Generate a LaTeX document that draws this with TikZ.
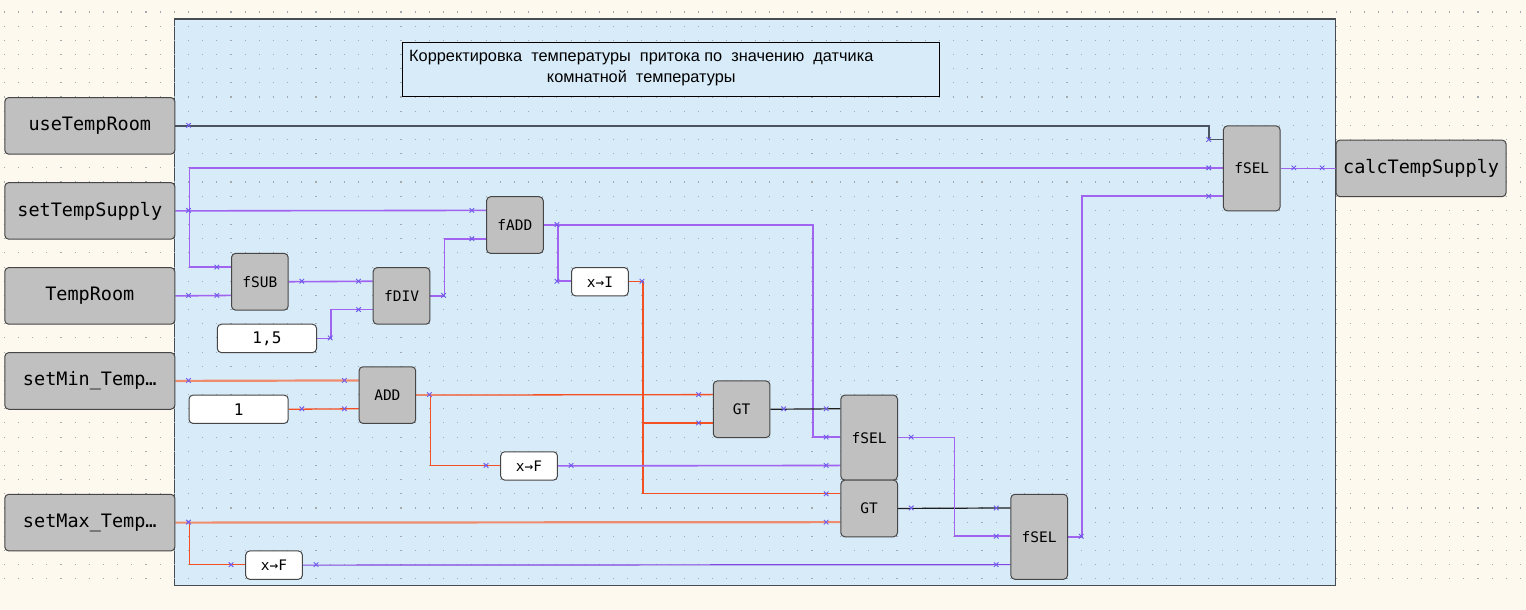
\documentclass[tikz,border=0pt]{standalone}
\usepackage{fontspec}
\setmonofont{DejaVu Sans Mono}
\newfontfamily\titlefont{Liberation Sans}
\usepackage{tikz}
\usetikzlibrary{positioning}
\usetikzlibrary{calc}
\newdimen\gs \gs=14.17pt
\definecolor{cream}{RGB}{254,249,238}
\definecolor{panel}{RGB}{216,235,249}
\definecolor{frame}{RGB}{70,76,82}
\definecolor{blk}{RGB}{192,192,192}
\definecolor{blkline}{RGB}{70,70,70}
\definecolor{dotc}{RGB}{165,170,175}
\definecolor{vio}{RGB}{160,100,240}
\definecolor{viod}{RGB}{130,70,225}
\definecolor{org}{RGB}{245,80,35}
\definecolor{orgl}{RGB}{240,140,110}
\definecolor{wblack}{RGB}{30,30,30}
\definecolor{wgray}{RGB}{75,85,95}
\definecolor{mkc}{RGB}{110,90,235}
\pgfdeclarelayer{back}
\pgfdeclarelayer{wire}
\pgfsetlayers{back,wire,main}
\newcommand{\ioblk}[3]{\node(#1)[io,anchor=north west] at (0,#2){#3}; \pic at (13,#2+2) {xm}}
\newcommand{\cblk}[5]{\node(#1)[cb,anchor=north west,minimum width=#4\gs] at (#2,#3){#5}; \pic at (#2+#4+1,#3+1) {xm}}
\newcommand{\fblk}[8]{%
  \node(#1)[#2,anchor=north west,minimum width=#5\gs,minimum height=#6\gs] at (#3,#4) {#8};
  \foreach \k in {1,...,#7}{
    \coordinate(#1-\k) at (#3,#4+2*\k-1);
    \pic at (#3-1,#4+2*\k-1) {xm};
  }
  \pic at (#3+#5+1,#4+#6/2) {xm}}

\begin{document}
\begin{tikzpicture}[
        x=14.17pt, y=-14.17pt,
        fb/.style={rectangle,rounded corners=4pt,draw=blkline,line width=1pt,fill=blk,
                   inner sep=0pt,font=\fontsize{14.5}{17}\selectfont\ttfamily},
        wb/.style={fb,fill=white},
        cb/.style={wb,minimum height=2\gs,font=\fontsize{16}{18}\selectfont\ttfamily},
        io/.style={fb,minimum width=12\gs,minimum height=4\gs,
                   font=\fontsize{18.5}{21}\selectfont\ttfamily},
        xm/.pic={\draw[mkc,line width=0.9pt] (-0.16,-0.16)--(0.16,0.16) (-0.16,0.16)--(0.16,-0.16);},
        dotline/.style={dotc,line width=1.1pt,dash pattern=on 1.1pt off 13.07pt},
        wv/.style={vio,line width=1.6pt},
        wvd/.style={viod,line width=1.2pt},
        wo/.style={org,line width=1.3pt},
        wol/.style={orgl,line width=2.2pt},
        wk/.style={wblack,line width=1.2pt},
        wg/.style={wgray,line width=1.6pt}
      ]
      \useasboundingbox (-0.303,-0.847) rectangle (107.39,42.2);
      \begin{pgfonlayer}{back}
        \fill[cream] (-0.303,-0.847) rectangle (107.39,42.2);
        \draw[frame,line width=1.2pt,fill=panel] (12,0.5) rectangle (93.95,40.5);
        \foreach \j in {0,...,40} \draw[dotline] (-0.04,\j) -- (107.4,\j);
      \end{pgfonlayer}

      \node(titlebox)[draw=black,line width=1pt,fill=panel,minimum width=37.9\gs,minimum height=3.8\gs,anchor=north west] at (28.07,2.12) {};
      \node(title)[right=7pt of titlebox.west,yshift=1pt,inner sep=0pt,align=center,font=\titlefont\fontsize{16.3}{21}\selectfont]
        {Корректировка\ \ температуры\ \ притока по\ \ значению\ \ датчика\\комнатной\ \ температуры};

      \ioblk{useTempRoom}{6}{useTempRoom};
      \ioblk{setTempSupply}{12}{setTempSupply};
      \ioblk{TempRoom}{18}{TempRoom};
      \ioblk{setMin}{24}{setMin\_Temp…};
      \ioblk{setMax}{34}{setMax\_Temp…};
      \node(calcTempSupply)[io,anchor=north west] at (93.95,9) {calcTempSupply};
      \pic at (93,11) {xm};

      \cblk{c15}{15}{22}{7}{1,5};
      \cblk{c1}{13}{27}{7}{1};
      \fblk{fSUB}{fb}{16}{17}{4}{4}{2}{fSUB};
      \fblk{fDIV}{fb}{26}{18}{4}{4}{2}{fDIV};
      \fblk{fADD}{fb}{34}{13}{4}{4}{2}{fADD};
      \fblk{xI}{wb}{40}{18}{4}{2}{1}{x→I};
      \fblk{ADD}{fb}{25}{25}{4}{4}{2}{ADD};
      \fblk{xFa}{wb}{35}{31}{4}{2}{1}{x→F};
      \fblk{xFb}{wb}{17}{38}{4}{2}{1}{x→F};
      \fblk{GTa}{fb}{50}{26}{4}{4}{2}{GT};
      \fblk{fSELa}{fb}{59}{27}{4}{6}{3}{fSEL};
      \fblk{GTb}{fb}{59}{33}{4}{4}{2}{GT};
      \fblk{fSELb}{fb}{71}{34}{4}{6}{3}{fSEL};
      \fblk{fSELc}{fb}{86}{8}{4}{6}{3}{fSEL};

      \begin{pgfonlayer}{wire}
        \draw[wg] (useTempRoom.east) -| ([xshift=-\gs]fSELc-1) -- (fSELc-1);
        \draw[wv] (setTempSupply.east) -- (fADD-1);
        \draw[wv] ([xshift=\gs]setTempSupply.east) |- (fSELc-2);
        \draw[wv] ([xshift=\gs]setTempSupply.east) |- (fSUB-1);
        \draw[wv] (TempRoom.east) -- (fSUB-2);
        \draw[wv] (fSUB.east) -- (fDIV-1);
        \draw[wv] (c15.east) -- ++(1,0) |- (fDIV-2);
        \draw[wv] (fDIV.east) -- ++(1,0) |- (fADD-2);
        \draw[wv] (fADD.east) -- ++(19,0) |- (fSELa-2);
        \draw[wv] ([xshift=\gs]fADD.east) |- (xI-1);
        \draw[wo] (xI.east) -- ++(1,0) |- (GTb-1);
        \draw[wo] ([xshift=\gs]xI.east) |- (GTa-2);
        \draw[wol] (setMin.east) -- (ADD-1);
        \draw[wo] (c1.east) -- (ADD-2);
        \draw[wo] (ADD.east) -- (GTa-1);
        \draw[wo] ([xshift=\gs]ADD.east) |- (xFa-1);
        \draw[wv] (xFa.east) -- (fSELa-3);
        \draw[wk] (GTa.east) -- (fSELa-1);
        \draw[wol] (setMax.east) -- (GTb-2);
        \draw[wo] ([xshift=\gs]setMax.east) |- (xFb-1);
        \draw[wvd] (xFb.east) -- (fSELb-3);
        \draw[wk] (GTb.east) -- (fSELb-1);
        \draw[wv] (fSELa.east) -- ++(4,0) |- (fSELb-2);
        \draw[wv] (fSELb.east) -- ++(1,0) |- (fSELc-3);
        \draw[wv] (fSELc.east) -- (calcTempSupply.west);
      \end{pgfonlayer}
\end{tikzpicture}
\end{document}
